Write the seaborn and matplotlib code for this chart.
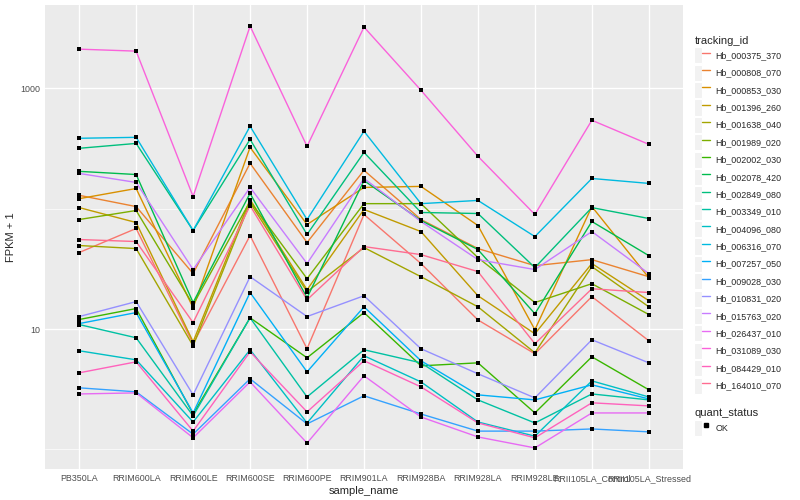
import pandas as pd
import numpy as np
import matplotlib
matplotlib.use("Agg")
import matplotlib.pyplot as plt
import seaborn as sns
from matplotlib.lines import Line2D
from matplotlib.patches import Patch
from matplotlib.legend_handler import HandlerTuple
from matplotlib.ticker import NullFormatter

# sample order on the x axis
samples = ['PB350LA', 'RRIM600LA', 'RRIM600LE', 'RRIM600SE', 'RRIM600PE', 'RRIM901LA',
           'RRIM928BA', 'RRIM928LA', 'RRIM928LE', 'RRII105LA_Control', 'RRII105LA_Stressed']

# FPKM + 1 for each gene (one value per sample)
hb_000375_370 = [43.2, 68.4, 7.55, 59.8, 6.86, 89.4, 35.0, 11.9, 6.23, 18.6, 7.99]
hb_000808_070 = [129, 104, 28.9, 238, 52.3, 208, 81.2, 46.6, 33.6, 37.7, 27.2]
hb_000853_030 = [121, 147, 15.0, 323, 73.8, 150, 153, 72.4, 9.87, 104, 26.7]
hb_001396_260 = [102, 76.7, 7.84, 119, 21.2, 98.4, 64.5, 18.9, 9.14, 35.0, 17.2]
hb_001638_040 = [49.4, 46.6, 7.26, 112, 20.4, 47.5, 27.2, 15.3, 6.35, 33.0, 15.3]
hb_001989_020 = [81.2, 96.5, 15.9, 115, 26.2, 110, 110, 39.2, 16.6, 23.8, 13.2]
hb_002002_030 = [12.0, 14.8, 1.97, 12.4, 5.77, 13.7, 4.95, 5.24, 2.01, 5.88, 3.13]
hb_002078_420 = [204, 192, 16.6, 134, 18.2, 171, 79.7, 45.7, 13.4, 78.2, 40.7]
hb_002849_080 = [317, 348, 65.8, 376, 61.0, 293, 92.9, 91.1, 32.4, 102, 82.8]
hb_003349_010 = [10.9, 8.46, 1.90, 12.4, 2.73, 6.73, 5.24, 2.58, 1.66, 2.89, 2.58]
hb_004096_080 = [6.60, 5.55, 1.69, 6.73, 1.66, 6.00, 3.64, 1.69, 1.29, 3.71, 2.73]
hb_006316_070 = [384, 391, 65.8, 483, 81.2, 439, 110, 117, 58.6, 178, 162]
hb_007257_050 = [11.1, 13.7, 2.01, 20.1, 4.41, 15.3, 5.45, 2.84, 2.58, 3.44, 2.63]
hb_009028_030 = [3.25, 3.01, 1.34, 3.86, 1.63, 2.79, 1.97, 1.42, 1.42, 1.48, 1.40]
hb_010831_020 = [12.7, 16.9, 2.84, 27.2, 12.7, 18.9, 6.86, 4.25, 2.68, 8.15, 5.24]
hb_015763_020 = [196, 165, 31.2, 150, 35.0, 178, 78.2, 37.7, 31.2, 64.5, 28.9]
hb_026437_010 = [2.89, 2.95, 1.25, 3.64, 1.13, 4.09, 1.86, 1.27, 1.03, 2.01, 2.01]
hb_031089_030 = [2111, 2032, 126, 3281, 329, 3219, 962, 272, 89.4, 542, 342]
hb_084429_010 = [4.33, 5.34, 1.42, 6.47, 2.05, 5.45, 3.31, 1.66, 1.25, 2.44, 2.30]
hb_164010_070 = [55.4, 53.3, 11.3, 106, 17.5, 48.4, 41.5, 30.0, 7.55, 21.6, 20.1]

tracking_ids = ['Hb_000375_370', 'Hb_000808_070', 'Hb_000853_030', 'Hb_001396_260',
                'Hb_001638_040', 'Hb_001989_020', 'Hb_002002_030', 'Hb_002078_420',
                'Hb_002849_080', 'Hb_003349_010', 'Hb_004096_080', 'Hb_006316_070',
                'Hb_007257_050', 'Hb_009028_030', 'Hb_010831_020', 'Hb_015763_020',
                'Hb_026437_010', 'Hb_031089_030', 'Hb_084429_010', 'Hb_164010_070']
series = [hb_000375_370, hb_000808_070, hb_000853_030, hb_001396_260, hb_001638_040,
          hb_001989_020, hb_002002_030, hb_002078_420, hb_002849_080, hb_003349_010,
          hb_004096_080, hb_006316_070, hb_007257_050, hb_009028_030, hb_010831_020,
          hb_015763_020, hb_026437_010, hb_031089_030, hb_084429_010, hb_164010_070]

# ggplot default hue palette for 20 levels
colors = ["#F8766D", "#EA8331", "#D89000", "#C09B00", "#A3A500", "#7CAE00", "#39B600",
          "#00BB4E", "#00BF7D", "#00C1A3", "#00BFC4", "#00BAE0", "#00B0F6", "#35A2FF",
          "#9590FF", "#C77CFF", "#E76BF3", "#FA62DB", "#FF62BC", "#FF6C91"]

# long table
rows = []
for tid, vals in zip(tracking_ids, series):
    for i, (s, v) in enumerate(zip(samples, vals)):
        rows.append({'tracking_id': tid, 'sample_name': s, 'pos': i, 'fpkm1': v})
df = pd.DataFrame(rows)

sns.set_theme(style="darkgrid", rc={
    "axes.facecolor": "#EBEBEB",
    "figure.facecolor": "white",
    "grid.color": "white",
})
plt.rcParams['font.family'] = ['Liberation Sans', 'DejaVu Sans']

fig = plt.figure(figsize=(8, 5), dpi=100)
ax = fig.add_axes([45 / 800, 31 / 500, 638 / 800, 464 / 500])

sns.lineplot(data=df, x='pos', y='fpkm1', hue='tracking_id', hue_order=tracking_ids,
             palette=colors, sort=False, estimator=None, legend=False, lw=1.0, ax=ax)
sns.scatterplot(data=df, x='pos', y='fpkm1', color='black', marker='s', s=10,
                linewidth=0, legend=False, ax=ax, zorder=3)

ax.set_yscale('log')
lo, hi = np.log10(df['fpkm1'].min()), np.log10(df['fpkm1'].max())
pad = 0.05 * (hi - lo)
ax.set_ylim(10 ** (lo - pad), 10 ** (hi + pad))
ax.set_xlim(-0.6, len(samples) - 0.4)

ax.set_yticks([10, 1000], labels=['10', '1000'])
ax.set_yticks([1, 100], minor=True)
ax.yaxis.set_minor_formatter(NullFormatter())
ax.set_xticks(range(len(samples)), labels=samples)

ax.grid(which='major', color='white', lw=1.0)
ax.grid(which='minor', axis='y', color='white', lw=0.5)
ax.tick_params(axis='both', which='major', length=2, width=0.8, color='#333333',
               labelcolor='#4D4D4D', labelsize=6.4, pad=1.6)
ax.tick_params(axis='y', which='minor', length=0)
for sp in ax.spines.values():
    sp.set_visible(False)

ax.set_xlabel('sample_name', fontsize=8, labelpad=2)
ax.set_ylabel('FPKM + 1', fontsize=8, labelpad=3)

# legends in ggplot fashion
key_bg = dict(fc='#F2F2F2', ec='white', lw=0.8)
leg_kw = dict(loc='upper left', frameon=False, fontsize=6.4, title_fontsize=8,
              handlelength=1.8, handleheight=2.4, labelspacing=0.15, handletextpad=0.6,
              borderaxespad=0, borderpad=0, alignment='left',
              handler_map={tuple: HandlerTuple(ndivide=None)})

h1 = [(Patch(**key_bg), Line2D([], [], color=c, lw=1.0)) for c in colors]
fig.legend(h1, tracking_ids, title='tracking_id', bbox_to_anchor=(0.868, 0.928), **leg_kw)

h2 = [(Patch(**key_bg), Line2D([], [], ls='none', marker='s', color='black', ms=2.4))]
fig.legend(h2, ['OK'], title='quant_status', bbox_to_anchor=(0.868, 0.183), **leg_kw)

fig.savefig('out.png', dpi=100)
